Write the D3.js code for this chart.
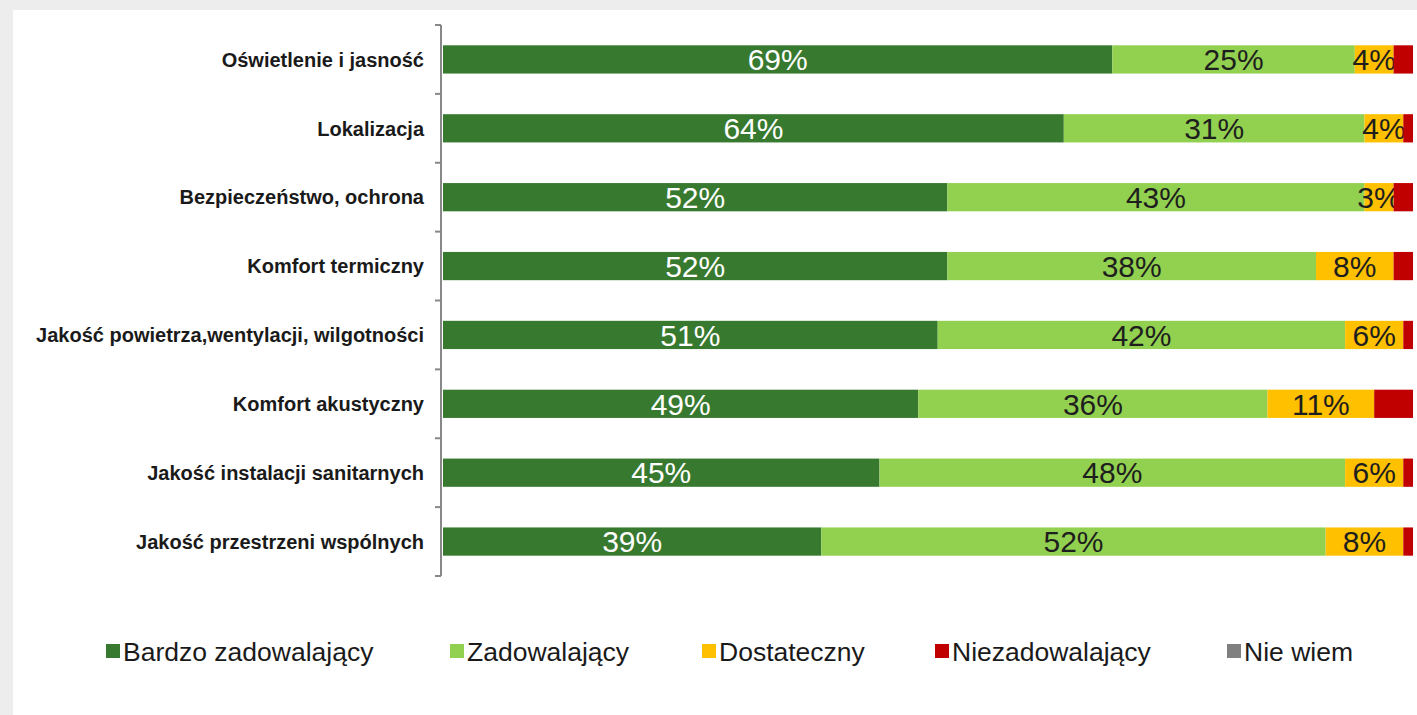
<!DOCTYPE html>
<html><head><meta charset="utf-8">
<script src="https://cdn.jsdelivr.net/npm/d3@7"></script>
<style>html,body{margin:0;padding:0;background:#ededed;overflow:hidden}</style>
</head><body>
<svg id="chart" width="1417" height="715"></svg>
<script>
const categories = ["Oświetlenie i jasność","Lokalizacja","Bezpieczeństwo, ochrona","Komfort termiczny","Jakość powietrza,wentylacji, wilgotności","Komfort akustyczny","Jakość instalacji sanitarnych","Jakość przestrzeni wspólnych"];
const seriesNames = ["Bardzo zadowalający","Zadowalający","Dostateczny","Niezadowalający","Nie wiem"];
const bardzo = [69,64,52,52,51,49,45,39];
const zadow = [25,31,43,38,42,36,48,52];
const dostat = [4,4,3,8,6,11,6,8];
const niezad = [2,1,2,2,1,4,1,1];
const nieWiem = [0,0,0,0,0,0,0,0];
const colors = ["#37792f","#92d050","#ffc000","#c00000","#808080"];
const textColors = ["#ffffff","#1e1e1e","#1e1e1e","#1e1e1e","#1e1e1e"];
const showLabel = [true,true,true,false,false];

const rows = categories.map((c,i)=>({cat:c, v:[bardzo[i],zadow[i],dostat[i],niezad[i],nieWiem[i]]}));
const stack = d3.stack().keys([0,1,2,3,4]).value((d,k)=>d.v[k]);
const stacked = stack(rows);

const svg = d3.select("#chart");
svg.append("rect").attr("x",13).attr("y",10).attr("width",1404).attr("height",705).attr("fill","#fff");

const x = d3.scaleLinear().domain([0,100]).range([443,1413]);
const y = d3.scaleBand().domain(categories).range([25,576]).paddingInner(0.59).paddingOuter(0.295);

const g = svg.append("g");
stacked.forEach((layer,k)=>{
  const lg = g.append("g");
  lg.selectAll("rect").data(layer).join("rect")
    .attr("x",d=>x(d[0])).attr("width",d=>x(d[1])-x(d[0]))
    .attr("y",d=>y(d.data.cat)).attr("height",y.bandwidth())
    .attr("fill",colors[k]);
  if (!showLabel[k]) return;
  lg.selectAll("text").data(layer.filter(d=>d[1]-d[0]>=3)).join("text")
    .attr("x",d=>(x(d[0])+x(d[1]))/2).attr("y",d=>y(d.data.cat)+y.bandwidth()/2)
    .attr("dy","0.36em").attr("text-anchor","middle")
    .attr("font-family","Liberation Sans, Arial, sans-serif").attr("font-size",30)
    .attr("fill",textColors[k]).text(d=>Math.round(d[1]-d[0])+"%");
});

// axis line with boundary ticks
const axisG = svg.append("g");
const step = y.step();
const bounds = d3.range(categories.length+1).map(i=>25+i*step);
axisG.append("line").attr("x1",441).attr("x2",441).attr("y1",25).attr("y2",576).attr("stroke","#888").attr("stroke-width",2);
axisG.selectAll("line.t").data(bounds).join("line").attr("class","t")
  .attr("x1",435).attr("x2",441).attr("y1",d=>d).attr("y2",d=>d).attr("stroke","#888").attr("stroke-width",2);
axisG.selectAll("text").data(categories).join("text")
  .attr("x",424).attr("y",d=>y(d)+y.bandwidth()/2).attr("dy","0.36em")
  .attr("text-anchor","end").attr("font-family","Liberation Sans, Arial, sans-serif")
  .attr("font-weight","bold").attr("font-size",20).attr("fill","#1a1a1a").text(d=>d);

// legend
const legX = [106,450,702,935,1227];
const lg = svg.append("g");
seriesNames.forEach((s,i)=>{
  lg.append("rect").attr("x",legX[i]).attr("y",644).attr("width",14).attr("height",14).attr("fill",colors[i]);
  lg.append("text").attr("x",legX[i]+17).attr("y",651).attr("dy","0.36em")
    .attr("font-family","Liberation Sans, Arial, sans-serif").attr("font-size",26.5)
    .attr("fill","#1a1a1a").text(s);
});
</script>
</body></html>
